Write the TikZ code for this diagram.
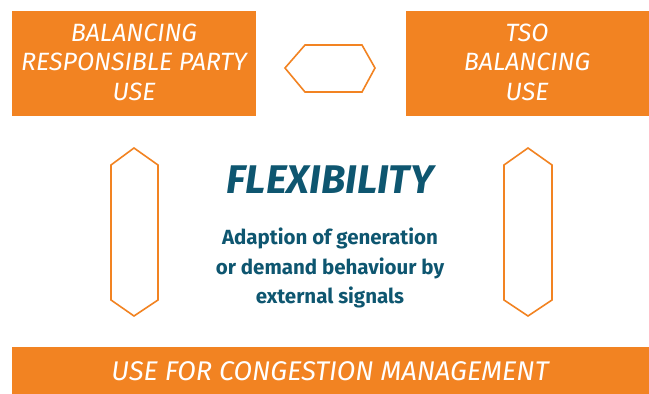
\documentclass[tikz,border=0pt]{standalone}
\usepackage{fontspec}
\setmainfont{Fira Sans}
\usetikzlibrary{positioning}
\definecolor{flexorange}{HTML}{F28322}
\definecolor{flexteal}{HTML}{0E5670}

\begin{document}
\begin{tikzpicture}[x=1pt,y=-1pt,
  use box/.style={fill=flexorange,text=white,font=\itshape\fontsize{25}{29.5}\selectfont,align=center,inner sep=0pt},
  hex/.style={draw=flexorange,line width=1.6pt,line join=miter}]
  \useasboundingbox (0,0) rectangle (649,394);
  \fill[white] (0,0) rectangle (649,394);
  % the three uses
  \fill[flexorange] (12,11) rectangle (256,116);
  \node[use box] (brp) at (134,62) {BALANCING\\RESPONSIBLE PARTY\\USE};
  \fill[flexorange] (406,11) rectangle (649,116);
  \node[use box] (tso) at (527,62) {TSO\\BALANCING\\USE};
  \fill[flexorange] (12,347) rectangle (649,394);
  \node[use box,font=\itshape\fontsize{27}{29}\selectfont] (cong) at (330,371) {USE FOR CONGESTION MANAGEMENT};
  % centre text
  \node[text=flexteal,font=\bfseries\itshape\fontsize{40}{40}\selectfont] (flex) at (330,180) {FLEXIBILITY};
  \node[text=flexteal,font=\fontseries{sb}\selectfont\fontsize{20.5}{29.5}\selectfont,align=center] (def) at (330,268)
    {Adaption of generation\\or demand behaviour by\\external signals};
  % hexagon links
  \draw[hex] (285,68) -- (305,45) -- (362,45) -- (375,68) -- (362,92) -- (305,92) -- cycle;
  \draw[hex] (134,148) -- (158,165) -- (158,300) -- (134,316) -- (111,300) -- (111,165) -- cycle;
  \draw[hex] (528,148) -- (552,165) -- (552,300) -- (528,316) -- (504,300) -- (504,165) -- cycle;
\end{tikzpicture}
\end{document}
